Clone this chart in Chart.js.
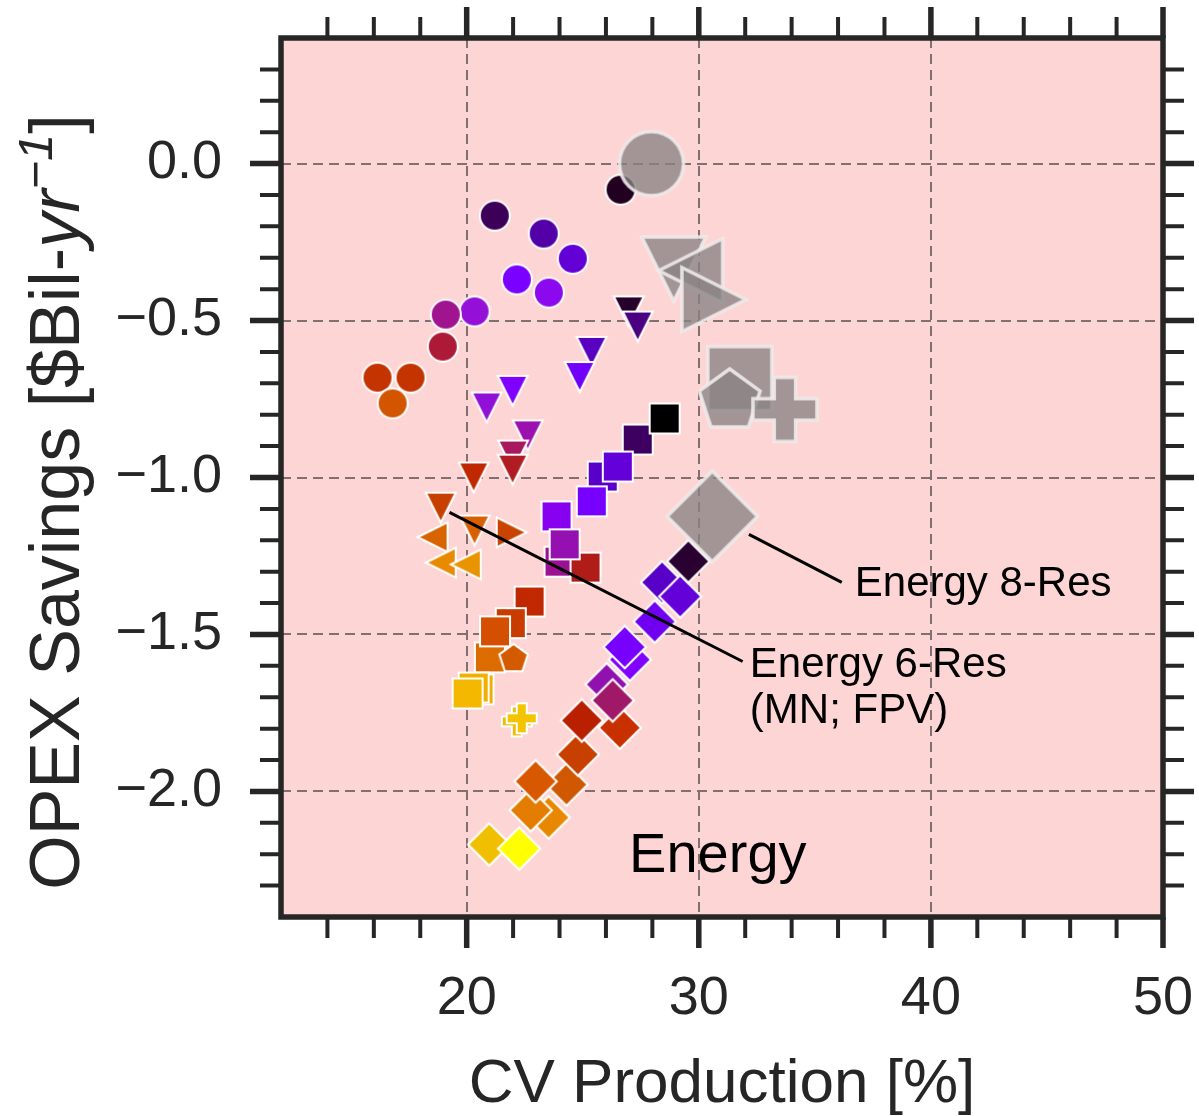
<!DOCTYPE html>
<html><head><meta charset="utf-8">
<script src="https://cdn.jsdelivr.net/npm/chart.js@4"></script>
<style>html,body{margin:0;padding:0;background:#fff}canvas{display:block}</style>
</head><body>
<canvas id="c" width="1199" height="1116"></canvas>
<script>
// ---- tick definitions ----
const xTickValues = [20, 30, 40, 50];
const xTickLabels = ['20', '30', '40', '50'];
const xMinorTicks = [14,16,18,22,24,26,28,32,34,36,38,42,44,46,48];
const yTickValues = [-2.0, -1.5, -1.0, -0.5, 0.0];
const yTickLabels = ['\u22122.0', '\u22121.5', '\u22121.0', '\u22120.5', '0.0'];
const yMinorTicks = [-2.3,-2.2,-2.1,-1.9,-1.8,-1.7,-1.6,-1.4,-1.3,-1.2,-1.1,-0.9,-0.8,-0.7,-0.6,-0.4,-0.3,-0.2,-0.1,0.1,0.2,0.3];

// ---- data: circles ----
const circleX = [26.63, 21.21, 23.32, 24.57, 22.16, 23.54, 20.34, 19.10, 18.97, 16.16, 17.58, 16.81];
const circleY = [-0.083, -0.166, -0.223, -0.303, -0.369, -0.411, -0.471, -0.481, -0.583, -0.682, -0.682, -0.764];
const circleColor = ['#22001f','#3d0058','#5300a8','#6300d5','#7a00ff','#8c08ef','#9410d8','#a01490','#ac1a38','#c43400','#c43400','#d45500'];

// ---- data: down triangles ----
const triDownX = [26.98, 27.37, 25.38, 24.87, 21.98, 20.86, 22.63, 22.00, 21.98, 20.30, 18.88, 20.34];
const triDownY = [-0.471, -0.519, -0.600, -0.680, -0.724, -0.777, -0.866, -0.930, -0.975, -1.000, -1.096, -1.169];
const triDownColor = ['#26002a','#4a0080','#5a00c0','#7000f8','#8000ff','#9010d8','#9c10b0','#a8185c','#b01c24','#c02800','#c84000','#d86000'];

// ---- data: left triangles ----
const triLeftX = [18.53, 18.88, 19.96];
const triLeftY = [-1.190, -1.271, -1.277];
const triLeftColor = ['#d86400','#e88a00','#e89400'];

// ---- data: right triangles ----
const triRightX = [21.94];
const triRightY = [-1.175];
const triRightColor = ['#c84400'];

// ---- data: squares ----
const squareX = [27.37, 28.53, 25.86, 26.51, 25.39, 23.87, 24.00, 25.12, 24.22, 22.71, 21.00, 21.90, 21.22, 20.51, 20.30, 20.04];
const squareY = [-0.879, -0.812, -0.997, -0.965, -1.076, -1.124, -1.268, -1.287, -1.213, -1.395, -1.573, -1.464, -1.490, -1.675, -1.669, -1.688];
const squareColor = ['#3d0060','#000000','#5800c8','#6400d8','#7800ff','#8800f0','#9c1094','#b01c18','#9410b0','#c02800','#dc6c00','#c83c00','#d45000','#f0ac00','#f0b000','#f4b800'];

// ---- data: pentagons ----
const pentX = [22.02];
const pentY = [-1.578];
const pentColor = ['#d45a00'];

// ---- data: plus markers ----
const plusX = [22.16, 22.37];
const plusY = [-1.777, -1.767];
const plusColor = ['#f0bc00','#f4c400'];

// ---- data: diamonds ----
const diamondX = [23.53, 22.76, 20.97, 22.26, 24.30, 22.97, 24.79, 26.60, 24.96, 26.03, 26.29, 27.03, 26.81, 28.10, 28.42, 29.20, 29.55];
const diamondY = [-2.083, -2.060, -2.169, -2.182, -1.978, -1.968, -1.882, -1.797, -1.774, -1.659, -1.710, -1.580, -1.540, -1.459, -1.334, -1.379, -1.267];
const diamondColor = ['#e88800','#e47c00','#f0c000','#ffff00','#d05800','#d85800','#c84000','#c83000','#b82000','#9010b0','#a01868','#8000ff','#7800ff','#7000f0','#5800c8','#6400d8','#2a0030'];

// ---- data: large grey markers (8-Res) ----
const greyShape = ['o', 'v', '<', '>', 's', 'p', 'P', 'D'];
const greyX = [27.96, 28.92, 29.65, 30.65, 31.77, 31.33, 33.71, 30.58];
const greyY = [0.000, -0.336, -0.341, -0.433, -0.685, -0.756, -0.783, -1.124];

// ---- annotations (data coords) ----
const annot8 = { from: [32.16, -1.181], to: [36.16, -1.334], at: [36.72, -1.340], lines: ['Energy 8-Res'] };
const annot6 = { from: [19.26, -1.111], to: [31.89, -1.586], at: [32.20, -1.600], lines: ['Energy 6-Res', '(MN; FPV)'] };
const panelLabel = { at: [30.82, -2.258], text: 'Energy' };

const FONT = "'Liberation Sans', Arial, Helvetica, sans-serif";
const INK = '#262626';

function markerCanvas(shape, size, fill, stroke, lw) {
  const pad = Math.ceil(lw) + 3;
  const ext = shape === 'D' ? size * Math.SQRT2 : size;
  let dim = Math.ceil(ext + 2 * pad);
  if (dim % 2) dim++;
  const cv = document.createElement('canvas');
  cv.width = dim; cv.height = dim;
  const g = cv.getContext('2d');
  g.translate(dim / 2, dim / 2);
  const r = size / 2;
  g.beginPath();
  if (shape === 'o') {
    g.arc(0, 0, r, 0, Math.PI * 2);
  } else if (shape === 'v') {
    g.moveTo(0, r); g.lineTo(-r, -r); g.lineTo(r, -r); g.closePath();
  } else if (shape === '<') {
    g.moveTo(-r, 0); g.lineTo(r, -r); g.lineTo(r, r); g.closePath();
  } else if (shape === '>') {
    g.moveTo(r, 0); g.lineTo(-r, -r); g.lineTo(-r, r); g.closePath();
  } else if (shape === 's') {
    g.rect(-r, -r, size, size);
  } else if (shape === 'D') {
    const h = r * Math.SQRT2;
    g.moveTo(0, -h); g.lineTo(h, 0); g.lineTo(0, h); g.lineTo(-h, 0); g.closePath();
  } else if (shape === 'p') {
    for (let i = 0; i < 5; i++) {
      const a = -Math.PI / 2 + i * 2 * Math.PI / 5;
      const px = r * Math.cos(a), py = r * Math.sin(a);
      if (i) g.lineTo(px, py); else g.moveTo(px, py);
    }
    g.closePath();
  } else if (shape === 'P') {
    const a = r / 3;
    const pts = [[-a,-r],[a,-r],[a,-a],[r,-a],[r,a],[a,a],[a,r],[-a,r],[-a,a],[-r,a],[-r,-a],[-a,-a]];
    pts.forEach((p, i) => i ? g.lineTo(p[0], p[1]) : g.moveTo(p[0], p[1]));
    g.closePath();
  }
  g.fillStyle = fill; g.fill();
  g.lineJoin = 'miter'; g.miterLimit = 4;
  g.lineWidth = lw; g.strokeStyle = stroke; g.stroke();
  return cv;
}

const SMALL = 30, BIG = 64;
function makeSet(shape, xs, ys, cols) {
  return {
    data: xs.map((x, i) => ({ x: x, y: ys[i] })),
    pointStyle: cols.map(c => markerCanvas(shape, SMALL, c, '#ffffff', 2)),
    pointRadius: SMALL / 2, pointHoverRadius: SMALL / 2, showLine: false
  };
}
const greySet = {
  data: greyX.map((x, i) => ({ x: x, y: greyY[i] })),
  pointStyle: greyShape.map(s => markerCanvas(s, BIG, 'rgba(137,131,131,0.78)', 'rgba(240,234,234,0.9)', 3.5)),
  pointRadius: BIG / 2, pointHoverRadius: BIG / 2, showLine: false
};

// first dataset is drawn on top in Chart.js
const datasets = [
  greySet,
  makeSet('o', circleX, circleY, circleColor),
  makeSet('v', triDownX, triDownY, triDownColor),
  makeSet('<', triLeftX, triLeftY, triLeftColor),
  makeSet('>', triRightX, triRightY, triRightColor),
  makeSet('P', plusX, plusY, plusColor),
  makeSet('p', pentX, pentY, pentColor),
  makeSet('s', squareX, squareY, squareColor),
  makeSet('D', diamondX, diamondY, diamondColor)
];

const deco = {
  id: 'deco',
  beforeDraw(chart) {
    const { ctx, chartArea: a } = chart;
    ctx.save();
    ctx.fillStyle = '#fdd5d5';
    ctx.fillRect(a.left, a.top, a.right - a.left, a.bottom - a.top);
    ctx.restore();
  },
  afterDatasetsDraw(chart) {
    const { ctx } = chart;
    const xs = chart.scales.x, ys = chart.scales.y;
    const P = (p) => [xs.getPixelForValue(p[0]), ys.getPixelForValue(p[1])];
    ctx.save();
    ctx.strokeStyle = '#000'; ctx.lineWidth = 3; ctx.lineCap = 'butt';
    [annot8, annot6].forEach(an => {
      const f = P(an.from), t = P(an.to);
      ctx.beginPath(); ctx.moveTo(f[0], f[1]); ctx.lineTo(t[0], t[1]); ctx.stroke();
      const at = P(an.at);
      ctx.fillStyle = '#000';
      ctx.font = '42px ' + FONT;
      ctx.textAlign = 'left'; ctx.textBaseline = 'middle';
      an.lines.forEach((ln, i) => ctx.fillText(ln, at[0], at[1] + i * 46));
    });
    const pl = P(panelLabel.at);
    ctx.font = '56px ' + FONT;
    ctx.textAlign = 'center'; ctx.textBaseline = 'alphabetic';
    ctx.fillStyle = '#000';
    ctx.fillText(panelLabel.text, pl[0], pl[1]);
    ctx.restore();
  },
  afterDraw(chart) {
    const { ctx, chartArea: a } = chart;
    const xs = chart.scales.x, ys = chart.scales.y;
    ctx.save();
    ctx.strokeStyle = INK;
    const tick = (vals, len, w) => {
      ctx.lineWidth = w;
      ctx.beginPath();
      vals.forEach(v => {
        const px = xs.getPixelForValue(v);
        ctx.moveTo(px, a.bottom); ctx.lineTo(px, a.bottom + len);
        ctx.moveTo(px, a.top); ctx.lineTo(px, a.top - len);
      });
      ctx.stroke();
    };
    const tickY = (vals, len, w) => {
      ctx.lineWidth = w;
      ctx.beginPath();
      vals.forEach(v => {
        const py = ys.getPixelForValue(v);
        ctx.moveTo(a.left, py); ctx.lineTo(a.left - len, py);
        ctx.moveTo(a.right, py); ctx.lineTo(a.right + len, py);
      });
      ctx.stroke();
    };
    tick(xMinorTicks, 21, 4); tick(xTickValues, 31, 5.5);
    tickY(yMinorTicks, 21, 4); tickY(yTickValues, 31, 5.5);
    ctx.lineWidth = 5.5;
    ctx.strokeRect(a.left, a.top, a.right - a.left, a.bottom - a.top);
    ctx.fillStyle = INK;
    ctx.font = '62px ' + FONT;
    ctx.textAlign = 'center'; ctx.textBaseline = 'alphabetic';
    ctx.fillText('CV Production [%]', (a.left + a.right) / 2, 1102);
    const parts = [
      { t: 'OPEX Savings [$Bil-', f: '70px ' + FONT, dy: 0 },
      { t: 'yr', f: 'italic 70px ' + FONT, dy: 0 },
      { t: '\u22121', f: 'italic 49px ' + FONT, dy: -27 },
      { t: ']', f: '70px ' + FONT, dy: 0 }
    ];
    let total = 0;
    parts.forEach(p => { ctx.font = p.f; p.w = ctx.measureText(p.t).width; total += p.w; });
    ctx.translate(79, 502);
    ctx.rotate(-Math.PI / 2);
    ctx.textAlign = 'left';
    let cx = -total / 2;
    parts.forEach(p => { ctx.font = p.f; ctx.fillText(p.t, cx, p.dy); cx += p.w; });
    ctx.restore();
  }
};

function zeroPad(s) { s.paddingTop = 0; s.paddingBottom = 0; s.paddingLeft = 0; s.paddingRight = 0; }

new Chart(document.getElementById('c'), {
  type: 'scatter',
  data: { datasets: datasets },
  options: {
    responsive: false, animation: false, devicePixelRatio: 1, events: [],
    layout: { padding: { top: 38, right: 36, left: 0, bottom: 0 } },
    plugins: { legend: { display: false }, tooltip: { enabled: false } },
    scales: {
      x: {
        type: 'linear', min: 12, max: 50,
        afterBuildTicks: s => { s.ticks = xTickValues.map(v => ({ value: v })); },
        afterFit: s => { s.height = 199; zeroPad(s); },
        ticks: { callback: v => xTickLabels[xTickValues.indexOf(v)], font: { family: FONT, size: 54 }, color: INK, padding: 50, maxRotation: 0, autoSkip: false },
        grid: { drawTicks: false, color: '#7f7171', lineWidth: 2 },
        border: { display: false, dash: [10, 6] }
      },
      y: {
        type: 'linear', min: -2.4, max: 0.4,
        afterBuildTicks: s => { s.ticks = yTickValues.map(v => ({ value: v })); },
        afterFit: s => { s.width = 281; zeroPad(s); },
        ticks: { callback: v => yTickLabels[yTickValues.indexOf(v)], font: { family: FONT, size: 54 }, color: INK, padding: 59, autoSkip: false },
        grid: { drawTicks: false, color: '#7f7171', lineWidth: 2 },
        border: { display: false, dash: [10, 6] }
      }
    }
  },
  plugins: [deco]
});
</script>
</body></html>
